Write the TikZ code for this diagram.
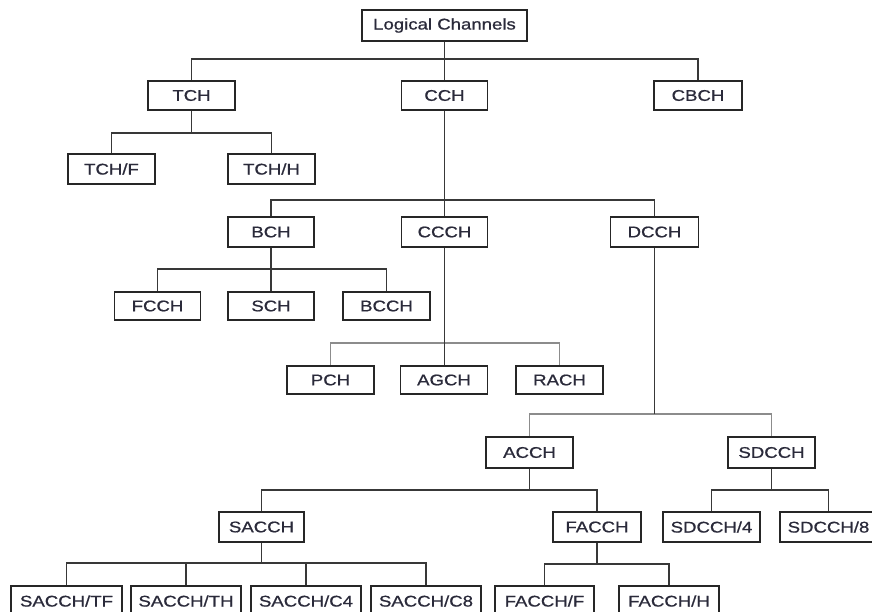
\documentclass[tikz,border=0pt]{standalone}
\usepackage{fontspec}
\setmainfont{Liberation Sans}[FakeStretch=1.2,FakeBold=0.8]
\begin{document}
\begin{tikzpicture}[x=1pt,y=-1pt,
  chan/.style={draw=boxline,line width=1.6pt,fill=white,minimum height=30pt,
    inner sep=0pt,font=\fontsize{15.5}{18}\selectfont,text=txt},
  link/.style={draw=linkdark,line width=1.5pt},
  linklight/.style={draw=linkgray,line width=1.5pt}]
\definecolor{boxline}{HTML}{262626}
\definecolor{linkdark}{HTML}{383838}
\definecolor{linkgray}{HTML}{8C8C8C}
\definecolor{txt}{HTML}{2A2A3A}
\useasboundingbox (0,0) rectangle (872,612);
\clip (0,0) rectangle (872,612);
\fill[white] (0,0) rectangle (872,612);

% bus levels
\coordinate (bLC) at (0,59);
\coordinate (bTCH) at (0,133);
\coordinate (bCCH) at (0,200);
\coordinate (bBCH) at (0,269);
\coordinate (bCCCH) at (0,343);
\coordinate (bDCCH) at (0,414);
\coordinate (bACCH) at (0,490);
\coordinate (bSDCCH) at (0,490);
\coordinate (bSACCH) at (0,563);
\coordinate (bFACCH) at (0,564);

% channel boxes
\node[chan,minimum width=165pt,minimum height=31pt] (LC) at (444.5,25.5) {Logical Channels};
\node[chan,minimum width=87pt,minimum height=29pt] (TCH) at (191.5,95.5) {TCH};
\node[chan,minimum width=86pt,minimum height=29pt] (CCH) at (444.5,95.5) {CCH};
\node[chan,minimum width=88pt,minimum height=29pt] (CBCH) at (698,95.5) {CBCH};
\node[chan,minimum width=87pt] (TCHF) at (111.5,169) {TCH/F};
\node[chan,minimum width=87pt] (TCHH) at (271.5,169) {TCH/H};
\node[chan,minimum width=86pt] (BCH) at (271,232) {BCH};
\node[chan,minimum width=86pt] (CCCH) at (444.5,232) {CCCH};
\node[chan,minimum width=88pt] (DCCH) at (654.5,232) {DCCH};
\node[chan,minimum width=86pt,minimum height=28pt] (FCCH) at (157.5,306) {FCCH};
\node[chan,minimum width=86pt,minimum height=28pt] (SCH) at (271,306) {SCH};
\node[chan,minimum width=87pt,minimum height=28pt] (BCCH) at (386.5,306) {BCCH};
\node[chan,minimum width=87pt,minimum height=28pt] (PCH) at (330.5,380) {PCH};
\node[chan,minimum width=87pt,minimum height=28pt] (AGCH) at (444,380) {AGCH};
\node[chan,minimum width=87pt,minimum height=28pt] (RACH) at (559.5,380) {RACH};
\node[chan,minimum width=87pt,minimum height=31pt] (ACCH) at (529.5,452.5) {ACCH};
\node[chan,minimum width=87pt,minimum height=31pt] (SDCCH) at (771.5,452.5) {SDCCH};
\node[chan,minimum width=85pt] (SACCH) at (261.5,527) {SACCH};
\node[chan,minimum width=88pt] (FACCH) at (597,527) {FACCH};
\node[chan,minimum width=97pt] (SDCCHf) at (711.5,527) {SDCCH/4};
\node[chan,minimum width=97pt] (SDCCHe) at (828.5,527) {SDCCH/8};
\node[chan,minimum width=111pt] (STF) at (66.5,601) {SACCH/TF};
\node[chan,minimum width=110pt] (STH) at (186,601) {SACCH/TH};
\node[chan,minimum width=110pt] (SCf) at (306,601) {SACCH/C4};
\node[chan,minimum width=110pt] (SCe) at (426,601) {SACCH/C8};
\node[chan,minimum width=99pt] (FF) at (544.5,601) {FACCH/F};
\node[chan,minimum width=100pt] (FH) at (669,601) {FACCH/H};

% connectors
\foreach \c in {TCH,CCH,CBCH}
  \draw[link] (LC.south) -- (LC.south |- bLC) -| (\c.north);
\foreach \c in {TCHF,TCHH}
  \draw[link] (TCH.south) -- (TCH.south |- bTCH) -| (\c.north);
\foreach \c in {BCH,CCCH,DCCH}
  \draw[link] (CCH.south) -- (CCH.south |- bCCH) -| (\c.north);
\foreach \c in {FCCH,SCH,BCCH}
  \draw[link] (BCH.south) -- (BCH.south |- bBCH) -| (\c.north);
\foreach \c in {PCH,RACH}
  \draw[linklight] (CCCH.south |- bCCCH) -| (\c.north);
\draw[link] (CCCH.south) -- (AGCH.north -| CCCH.south);
\foreach \c in {ACCH,SDCCH}
  \draw[linklight] (DCCH.south |- bDCCH) -| (\c.north);
\draw[link] (DCCH.south) -- (DCCH.south |- bDCCH);
\foreach \c in {SACCH,FACCH}
  \draw[link] (ACCH.south) -- (ACCH.south |- bACCH) -| (\c.north);
\foreach \c in {SDCCHf,SDCCHe}
  \draw[link] (SDCCH.south) -- (SDCCH.south |- bSDCCH) -| (\c.north);
\foreach \c in {STF,STH,SCf,SCe}
  \draw[link] (SACCH.south) -- (SACCH.south |- bSACCH) -| (\c.north);
\foreach \c in {FF,FH}
  \draw[link] (FACCH.south) -- (FACCH.south |- bFACCH) -| (\c.north);
\end{tikzpicture}
\end{document}
